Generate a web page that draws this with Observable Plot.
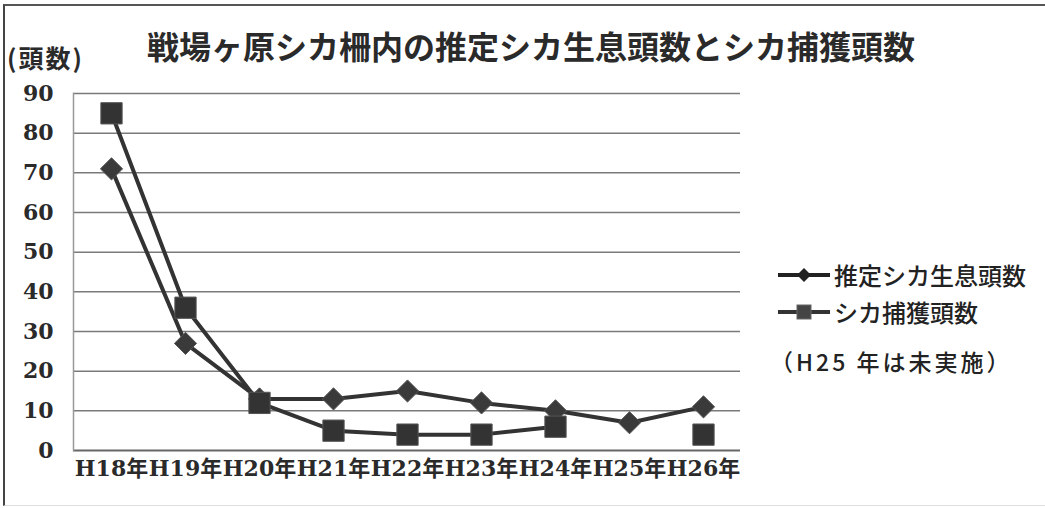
<!DOCTYPE html>
<html><head><meta charset="utf-8">
<script src="https://cdn.jsdelivr.net/npm/d3@7"></script>
<script src="https://cdn.jsdelivr.net/npm/@observablehq/plot@0.6"></script>
<style>
body{margin:0;background:#fff;}
#wrap{position:relative;width:1045px;height:508px;overflow:hidden;background:#fff;}
#border{position:absolute;left:3px;top:4px;width:1060px;height:499px;border-left:2px solid #444;border-top:2px solid #555;border-bottom:1px solid #ddd;}
#title{position:absolute;left:0;width:1062px;top:22px;text-align:center;font-family:"Noto Sans CJK JP";font-weight:700;font-size:32px;color:#2a2a2a;}
#unit{position:absolute;left:7px;top:39px;font-family:"Noto Sans CJK JP";font-weight:700;font-size:25px;letter-spacing:2px;color:#2a2a2a;}
#chart{position:absolute;left:0;top:75px;}
#legend{position:absolute;left:776px;top:256px;font-family:"Noto Sans CJK JP";font-weight:500;font-size:24px;color:#222;}
#legend .row{display:flex;align-items:center;height:37px;}
#legend svg{margin-right:2px;}
#note{position:absolute;left:770px;top:344px;font-family:"Noto Sans CJK JP";font-weight:500;font-size:23px;letter-spacing:3px;color:#222;}
</style></head>
<body>
<div id="wrap">
<div id="border"></div>
<div id="title"></div>
<div id="unit"></div>
<div id="chart"></div>
<div id="legend"></div>
<div id="note"></div>
</div>
<script>
const title = "戦場ヶ原シカ柵内の推定シカ生息頭数とシカ捕獲頭数";
const unitLabel = "(頭数)";
const years = ["H18年","H19年","H20年","H21年","H22年","H23年","H24年","H25年","H26年"];
const estimated = [71, 27, 13, 13, 15, 12, 10, 7, 11];
const captured = [85, 36, 12, 5, 4, 4, 6, null, 4];
const yTicks = [0,10,20,30,40,50,60,70,80,90];
const seriesNames = ["推定シカ生息頭数","シカ捕獲頭数"];
const note = "（H25 年は未実施）";

document.getElementById("title").textContent = title;
document.getElementById("unit").textContent = unitLabel;
document.getElementById("note").textContent = note;

const estData = years.map((x,i)=>({x, y: estimated[i]}));
const capData = years.map((x,i)=>({x, y: captured[i]}));
const col = "#333";

const chart = Plot.plot({
  width: 1045, height: 433,
  marginTop: 18, marginBottom: 58, marginLeft: 73, marginRight: 305,
  style: {fontFamily: "DejaVu Serif, Noto Sans CJK JP", fontWeight: "bold", fontSize: "22px", color: "#2a2a2a", background: "transparent"},
  x: {type: "point", domain: years, padding: 0.5, label: null},
  y: {domain: [0, 90], label: null},
  marks: [
    Plot.ruleY(yTicks.slice(1), {stroke: "#7a7a7a", strokeWidth: 1.5}),
    Plot.ruleY([0], {stroke: "#666", strokeWidth: 2}),
    Plot.frame({anchor: "left", stroke: "#999", strokeWidth: 1.5}),
    Plot.axisY({ticks: yTicks, tickSize: 0, tickPadding: 20, fontSize: 22, label: null}),
    Plot.axisX({tickSize: 0, tickPadding: 10, fontSize: 22, label: null}),
    Plot.line(estData, {x: "x", y: "y", stroke: col, strokeWidth: 4}),
    Plot.line(capData, {x: "x", y: "y", stroke: col, strokeWidth: 4}),
    Plot.dot(estData, {x: "x", y: "y", symbol: "diamond2", r: 10, fill: "#3a3a3a", stroke: "#555", strokeWidth: 1}),
    Plot.dot(capData.filter(d => d.y != null), {x: "x", y: "y", symbol: "square", r: 12, fill: "#333", stroke: "#555", strokeWidth: 1})
  ]
});
document.getElementById("chart").appendChild(chart);

const leg = document.getElementById("legend");
const markers = [
  `<svg width="56" height="20"><line x1="2" y1="10" x2="54" y2="10" stroke="#222" stroke-width="4"/><path d="M28,3 L35,10 L28,17 L21,10 Z" fill="#222"/></svg>`,
  `<svg width="56" height="20"><line x1="2" y1="10" x2="54" y2="10" stroke="#333" stroke-width="4"/><rect x="21" y="3" width="14" height="14" fill="#444" stroke="#666"/></svg>`
];
seriesNames.forEach((n,i)=>{
  const r = document.createElement("div");
  r.className = "row";
  r.innerHTML = markers[i] + `<span>${n}</span>`;
  leg.appendChild(r);
});
</script>
</body></html>
